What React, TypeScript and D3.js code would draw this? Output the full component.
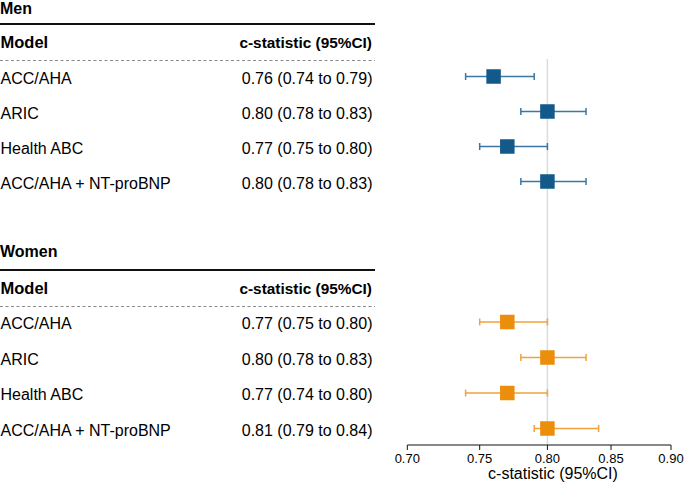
import React from "react";
import * as d3 from "d3";

const models = ["ACC/AHA", "ARIC", "Health ABC", "ACC/AHA + NT-proBNP"];
const menEst = [0.76, 0.8, 0.77, 0.8];
const menLo = [0.74, 0.78, 0.75, 0.78];
const menHi = [0.79, 0.83, 0.8, 0.83];
const menText = ["0.76 (0.74 to 0.79)", "0.80 (0.78 to 0.83)", "0.77 (0.75 to 0.80)", "0.80 (0.78 to 0.83)"];
const womenEst = [0.77, 0.8, 0.77, 0.8];
const womenLo = [0.75, 0.78, 0.74, 0.79];
const womenHi = [0.8, 0.83, 0.8, 0.84];
const womenText = ["0.77 (0.75 to 0.80)", "0.80 (0.78 to 0.83)", "0.77 (0.74 to 0.80)", "0.81 (0.79 to 0.84)"];
const xTicks = [0.7, 0.75, 0.8, 0.85, 0.9];

const W = 685;
const H = 483;
const FONT = "'Liberation Sans', Arial, Helvetica, sans-serif";

export default function App() {
  const x = d3.scaleLog().domain([0.7, 0.9]).range([407.3, 671]);
  const fmt = d3.format(".2f");
  const axisY = 445;
  const sq = 14.5;
  const cap = 7;

  const sections = [
    {
      title: "Men", titleY: 14, solid: 24, est: menEst, lo: menLo, hi: menHi, txt: menText,
      y: d3.scalePoint<string>().domain(models).range([76.5, 181.5]),
      box: "#135a8b", line: "#3b77a3",
    },
    {
      title: "Women", titleY: 257, solid: 270, est: womenEst, lo: womenLo, hi: womenHi, txt: womenText,
      y: d3.scalePoint<string>().domain(models).range([322, 428.5]),
      box: "#ea8e0c", line: "#f0a23c",
    },
  ];

  return (
    <svg width={W} height={H} style={{ position: "fixed", left: 0, top: 0, background: "#fff" }} fontFamily={FONT}>
      <line x1={x(0.8)} x2={x(0.8)} y1={59} y2={axisY} stroke="#d8dcdf" strokeWidth={1.5} />
      {sections.map((s) => (
        <g key={s.title}>
          <text x={0} y={s.titleY} fontSize={16} fontWeight="bold" fill="#000">{s.title}</text>
          <line x1={0} x2={375} y1={s.solid} y2={s.solid} stroke="#111" strokeWidth={2} />
          <text x={0.5} y={s.solid + 23.8} fontSize={16.5} fontWeight="bold" fill="#000">Model</text>
          <text x={372} y={s.solid + 23.8} fontSize={15.4} fontWeight="bold" fill="#000" textAnchor="end">c-statistic (95%CI)</text>
          <line x1={0} x2={375} y1={s.solid + 36.5} y2={s.solid + 36.5} stroke="#8a8a8a" strokeWidth={1} strokeDasharray="3,2.5" />
          {models.map((m, i) => {
            const yy = s.y(m) as number;
            return (
              <g key={m}>
                <text x={0.5} y={yy + 7.2} fontSize={16} fill="#000">{m}</text>
                <text x={372.5} y={yy + 7.2} fontSize={16} fill="#000" textAnchor="end">{s.txt[i]}</text>
                <line x1={x(s.lo[i])} x2={x(s.hi[i])} y1={yy} y2={yy} stroke={s.line} strokeWidth={1.5} />
                <line x1={x(s.lo[i])} x2={x(s.lo[i])} y1={yy - cap / 2} y2={yy + cap / 2} stroke={s.line} strokeWidth={1.5} />
                <line x1={x(s.hi[i])} x2={x(s.hi[i])} y1={yy - cap / 2} y2={yy + cap / 2} stroke={s.line} strokeWidth={1.5} />
                <rect x={x(s.est[i]) - sq / 2} y={yy - sq / 2} width={sq} height={sq} fill={s.box} />
              </g>
            );
          })}
        </g>
      ))}
      <line x1={x(0.7)} x2={x(0.9)} y1={axisY} y2={axisY} stroke="#111" strokeWidth={1} />
      {xTicks.map((t) => (
        <g key={t}>
          <line x1={x(t)} x2={x(t)} y1={axisY} y2={axisY + 5} stroke="#111" strokeWidth={1} />
          <text x={x(t)} y={463} fontSize={13} textAnchor="middle" fill="#000">{fmt(t)}</text>
        </g>
      ))}
      <text x={553} y={478.5} fontSize={16} textAnchor="middle" fill="#000">c-statistic (95%CI)</text>
    </svg>
  );
}
